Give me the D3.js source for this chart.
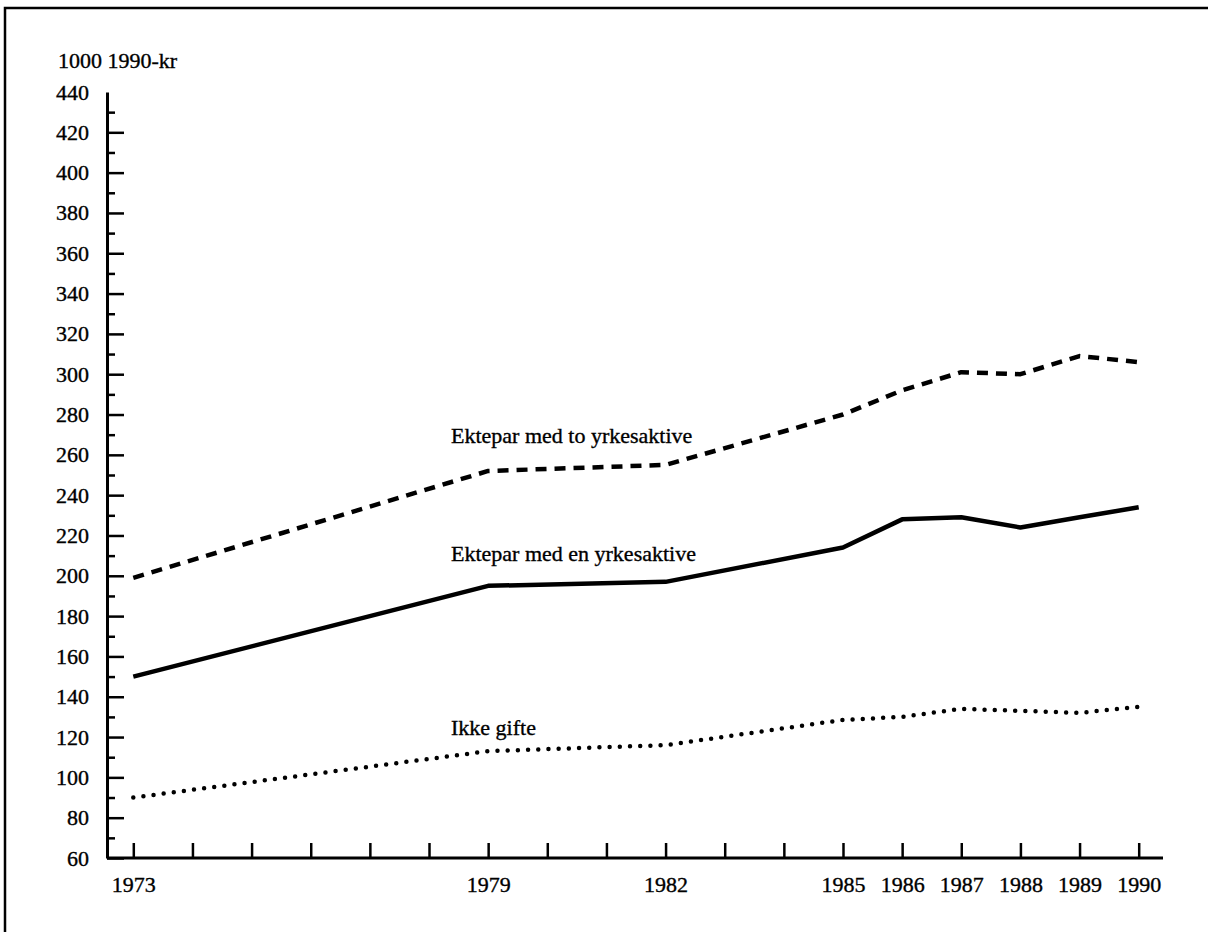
<!DOCTYPE html>
<html>
<head>
<meta charset="utf-8">
<script src="https://cdn.jsdelivr.net/npm/d3@7"></script>
<style>
  html, body { margin: 0; padding: 0; background: #fff; }
  svg text { font-family: "Liberation Serif", "Times New Roman", serif; fill: #000; stroke: #000; stroke-width: 0.35px; }
</style>
</head>
<body>
<svg id="chart" width="1208" height="932"></svg>
<script>
// ---- data ----
const years = [1973, 1979, 1982, 1985, 1986, 1987, 1988, 1989, 1990];
const toYrkesaktive = [199, 252, 255, 280, 292, 301, 300, 309, 306];
const enYrkesaktive = [150, 195, 197, 214, 228, 229, 224, 229, 234];
const ikkeGifte = [90, 113, 116, 128.5, 130, 134, 133, 132, 135];
const seriesNames = ["Ektepar med to yrkesaktive", "Ektepar med en yrkesaktive", "Ikke gifte"];
const xTickYears = d3.range(1973, 1991);
const xLabelYears = [1973, 1979, 1982, 1985, 1986, 1987, 1988, 1989, 1990];
const yMajorTicks = d3.range(60, 441, 20);
const yMinorTicks = d3.range(70, 431, 20);
const yUnit = "1000 1990-kr";

// ---- layout ----
const svg = d3.select("#chart");
const FS = 22;
const axisX = 107, axisY = 858, axisRight = 1163, axisTop = 92;
const x = d3.scaleLinear().domain([1973, 1990]).range([133.3, 1138.7]);
const y = d3.scaleLinear().domain([60, 440]).range([axisY, axisTop]);

// frame
svg.append("rect").attr("x", 5).attr("y", 8).attr("width", 1400).attr("height", 1200)
  .attr("fill", "none").attr("stroke", "#000").attr("stroke-width", 2.5);

// unit label
svg.append("text").attr("x", 58).attr("y", 68).attr("font-size", FS).text(yUnit);

// y axis - major
const gy = svg.append("g").attr("transform", `translate(${axisX},0)`)
  .call(d3.axisLeft(y).tickValues(yMajorTicks).tickSizeInner(-17).tickSizeOuter(0).tickPadding(18));
gy.select(".domain").attr("stroke-width", 3);
gy.selectAll(".tick line").attr("stroke-width", 2.5).attr("display", d => d === 440 ? "none" : null);
gy.selectAll(".tick text").attr("font-size", FS);
// y axis - minor
const gym = svg.append("g").attr("transform", `translate(${axisX},0)`)
  .call(d3.axisLeft(y).tickValues(yMinorTicks).tickSizeInner(-8).tickSizeOuter(0).tickFormat(""));
gym.select(".domain").remove();
gym.selectAll(".tick line").attr("stroke-width", 2.5);

// x axis
const gx = svg.append("g").attr("transform", `translate(0,${axisY})`)
  .call(d3.axisBottom(x).tickValues(xTickYears).tickSizeInner(-15).tickSizeOuter(0).tickPadding(18)
    .tickFormat(d => xLabelYears.includes(d) ? String(d) : ""));
gx.select(".domain").attr("d", `M${axisX},0H${axisRight}`).attr("stroke-width", 3);
gx.selectAll(".tick line").attr("stroke-width", 2.5);
gx.selectAll(".tick text").attr("font-size", FS);

// lines
const line = d3.line().x((d, i) => x(years[i])).y(d => y(d));
const styles = [
  { data: toYrkesaktive, dash: "11,8", cap: "butt", w: 4.5 },
  { data: enYrkesaktive, dash: null, cap: "butt", w: 4.5 },
  { data: ikkeGifte, dash: "0,10.2", cap: "round", w: 4.5 }
];
styles.forEach(s => {
  svg.append("path").datum(s.data).attr("d", line)
    .attr("fill", "none").attr("stroke", "#000").attr("stroke-width", s.w)
    .attr("stroke-linecap", s.cap).attr("stroke-linejoin", "round")
    .attr("stroke-dasharray", s.dash);
});

// series labels
const labelPos = [[451, 443], [451, 561], [451, 735]];
seriesNames.forEach((n, i) => {
  svg.append("text").attr("x", labelPos[i][0]).attr("y", labelPos[i][1])
    .attr("font-size", FS).text(n);
});
</script>
</body>
</html>
